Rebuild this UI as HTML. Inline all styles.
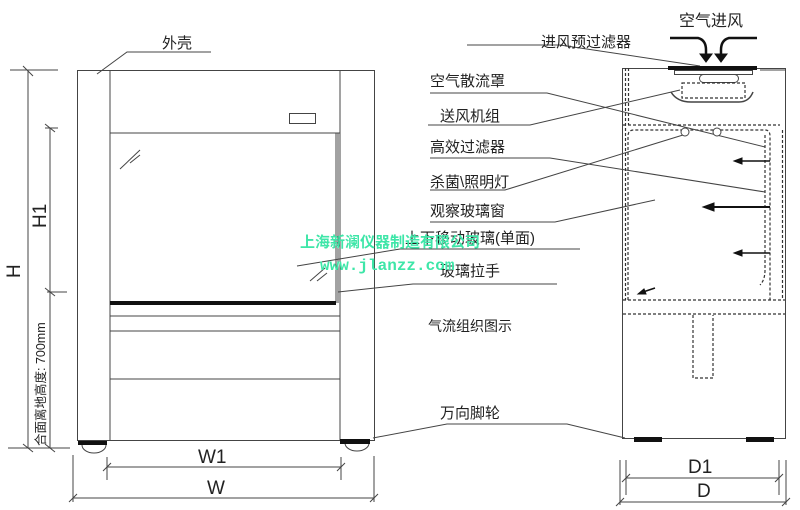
<!DOCTYPE html>
<html><head><meta charset="utf-8"><style>
body{margin:0;background:#fff}
svg{display:block}
text{font-family:"Liberation Sans","Noto Sans CJK SC",sans-serif;fill:#222}
</style></head><body>
<svg width="800" height="510" viewBox="0 0 800 510" xmlns="http://www.w3.org/2000/svg">
<g stroke="#444" stroke-width="1" fill="none">
<rect x="77.5" y="70.5" width="297" height="370"/>
<line x1="110" y1="70" x2="110" y2="441"/>
<line x1="340" y1="70" x2="340" y2="441"/>
<line x1="110" y1="133" x2="340" y2="133"/>
<line x1="336" y1="133" x2="336" y2="303"/>
<line x1="338" y1="133" x2="338" y2="303"/>
<rect x="289.5" y="113.5" width="26" height="10"/>
<line x1="120" y1="169" x2="140" y2="150"/><line x1="130" y1="163" x2="140" y2="155"/>
<line x1="310" y1="281" x2="325" y2="268"/><line x1="317" y1="281" x2="327" y2="273"/>
<line x1="110" y1="316" x2="340" y2="316"/>
<line x1="110" y1="331" x2="340" y2="331"/>
<line x1="110" y1="379" x2="340" y2="379"/>
<path d="M82 445 a12 8 0 0 0 24 0"/><path d="M345 443 a12 8 0 0 0 24 0"/>
<line x1="10" y1="70" x2="58" y2="70"/><line x1="28" y1="70" x2="28" y2="448"/>
<line x1="50" y1="128" x2="50" y2="448"/><line x1="45" y1="128" x2="58" y2="128"/>
<line x1="47" y1="292" x2="67" y2="292"/>
<line x1="8" y1="448" x2="70" y2="448"/>
<line x1="23" y1="66" x2="33" y2="76"/><line x1="45" y1="124" x2="55" y2="132"/><line x1="45" y1="288" x2="55" y2="296"/>
<line x1="23" y1="444" x2="33" y2="452"/><line x1="45" y1="444" x2="55" y2="452"/>
<line x1="107" y1="457" x2="107" y2="480"/><line x1="341" y1="457" x2="341" y2="480"/>
<line x1="73" y1="455" x2="73" y2="502"/><line x1="374" y1="456" x2="374" y2="502"/>
<line x1="107" y1="467" x2="341" y2="467"/><line x1="73" y1="498" x2="374" y2="498"/>
<line x1="103" y1="471" x2="111" y2="463"/><line x1="337" y1="471" x2="345" y2="463"/>
<line x1="69" y1="502" x2="77" y2="494"/><line x1="370" y1="502" x2="378" y2="494"/>
<polyline points="97,74 127,52 211,52"/>
<rect x="622.5" y="68.5" width="163" height="370"/>
<rect x="674.5" y="70.5" width="78" height="4"/>
<rect x="699.5" y="74.5" width="39" height="8" rx="4"/>
<path d="M671 92 q6 10 20 10 h48 q10 0 14 -10" stroke-width="1.5"/>
<line x1="760" y1="70" x2="786" y2="70"/>
<polyline points="430,93 547,93 765,147"/>
<polyline points="428,125 530,125 680,90"/>
<polyline points="430,158 550,158 765,192"/>
<polyline points="430,190 505,190 683,135"/>
<polyline points="430,222 555,222 655,200"/>
<polyline points="297,266 400,249 580,249"/>
<polyline points="338,292 413,284 557,284"/>
<polyline points="373,438 447,424 567,424 625,438"/>
<polyline points="467,45 560,45 700,66"/>
<line x1="620" y1="460" x2="620" y2="505"/><line x1="626" y1="460" x2="626" y2="495"/>
<line x1="779" y1="460" x2="779" y2="495"/><line x1="786" y1="460" x2="786" y2="505"/>
<line x1="626" y1="478" x2="779" y2="478"/><line x1="620" y1="502" x2="786" y2="502"/>
<line x1="622" y1="482" x2="630" y2="474"/><line x1="775" y1="482" x2="783" y2="474"/>
<line x1="616" y1="506" x2="624" y2="498"/><line x1="782" y1="506" x2="790" y2="498"/>
</g>
<g stroke="#333" stroke-width="1.2" fill="none" stroke-dasharray="3,2">
<line x1="625.5" y1="68" x2="625.5" y2="300"/><line x1="628.5" y1="68" x2="628.5" y2="125"/>
<line x1="623" y1="125" x2="780" y2="125"/>
<path d="M628 300 V136 q0 -6 6 -6 H765 q5 0 5 6 V300"/>
<line x1="782.5" y1="130" x2="782.5" y2="300"/>
<path d="M765 135 V270 q0 10 -5 15"/>
<line x1="623" y1="300" x2="785" y2="300"/>
<line x1="623" y1="314" x2="785" y2="314"/>
<path d="M693 315 V378 H713 V315"/>
<rect x="682" y="83" width="63" height="15"/>
</g>
<g fill="#111" stroke="none">
<rect x="110" y="301" width="226" height="4"/>
<rect x="78" y="441" width="29" height="4"/><rect x="340" y="439" width="30" height="5"/>
<rect x="668" y="66" width="89" height="4"/>
<rect x="634" y="437" width="28" height="5"/><rect x="746" y="437" width="28" height="5"/>
</g>
<g stroke="#111" fill="#111">
<line x1="770" y1="161" x2="740" y2="161" stroke-width="1.5"/><path d="M734 161 l8 -3 v6z"/>
<line x1="770" y1="207" x2="712" y2="207" stroke-width="2"/><path d="M703 207 l11 -4 v8z"/>
<line x1="770" y1="253" x2="740" y2="253" stroke-width="1.5"/><path d="M734 253 l8 -3 v6z"/>
<line x1="655" y1="288" x2="643" y2="292" stroke-width="1.5"/><path d="M638 294 l6 -5 l2 5z"/>
<path d="M670 38 h28 q8 2 8 12 v6" fill="none" stroke-width="2.5"/><path d="M700 54 l6 8 l6 -8z"/>
<path d="M757 38 h-28 q-8 2 -8 12 v6" fill="none" stroke-width="2.5"/><path d="M715 54 l6 8 l6 -8z"/>
</g>
<g fill="#fff" stroke="#444"><circle cx="685" cy="132" r="4"/><circle cx="717" cy="132" r="4"/></g>
<g font-size="15">
<text x="162" y="48">外壳</text>
<text x="679" y="26" font-size="16">空气进风</text>
<text x="541" y="47">进风预过滤器</text>
<text x="430" y="86">空气散流罩</text>
<text x="440" y="121">送风机组</text>
<text x="430" y="152">高效过滤器</text>
<text x="430" y="187">杀菌\照明灯</text>
<text x="430" y="216">观察玻璃窗</text>
<text x="405" y="243">上下移动玻璃(单面)</text>
<text x="440" y="276">玻璃拉手</text>
<text x="428" y="331" font-size="14">气流组织图示</text>
<text x="440" y="418">万向脚轮</text>
</g>
<g font-size="19">
<text x="198" y="463">W1</text>
<text x="207" y="494">W</text>
<text x="688" y="473">D1</text>
<text x="697" y="497">D</text>
<text transform="translate(20,278) rotate(-90)">H</text>
<text transform="translate(46,228) rotate(-90)">H1</text>
</g>
<text transform="translate(45,446) rotate(-90)" font-size="12.5">合面离地高度: 700mm</text>
<g font-weight="bold">
<text x="300" y="247" font-size="15" style="fill:#3ee6a8">上海新澜仪器制造有限公司</text>
<text x="320" y="270" font-size="16" style="fill:#3ee6a8;font-family:'Liberation Mono',monospace">www.jlanzz.com</text>
</g>
</svg>
</body></html>
